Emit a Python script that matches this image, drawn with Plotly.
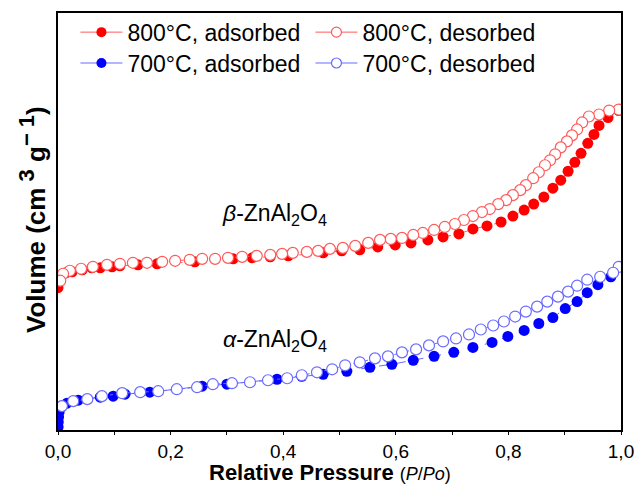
import plotly.graph_objects as go

# Relative pressure P/Po and volume (arbitrary units, no y tick labels in reference)
p_800_ads = [0.000, 0.002, 0.005, 0.014, 0.025, 0.043, 0.060, 0.075, 0.096, 0.110, 0.142, 0.176,
             0.243, 0.311, 0.345, 0.377, 0.409, 0.471, 0.504, 0.536, 0.568, 0.599, 0.627, 0.657,
             0.684, 0.712, 0.737, 0.762, 0.787, 0.808, 0.828, 0.845, 0.863, 0.879, 0.893, 0.906,
             0.918, 0.929, 0.941, 0.952, 0.961, 0.977, 0.996]
v_800_ads = [143, 149, 154, 158, 159, 161, 163, 163, 164, 165, 166, 167,
             169, 172, 173, 174, 175, 178, 180, 181, 184, 186, 188, 191,
             194, 197, 202, 205, 209, 215, 221, 227, 234, 243, 251, 260,
             269, 278, 288, 297, 306, 314, 321]

p_800_des = [0.996, 0.979, 0.961, 0.943, 0.931, 0.922, 0.913, 0.904, 0.893, 0.883, 0.874, 0.865,
             0.854, 0.844, 0.831, 0.821, 0.808, 0.796, 0.782, 0.767, 0.753, 0.737, 0.721, 0.705,
             0.687, 0.668, 0.648, 0.631, 0.611, 0.591, 0.572, 0.551, 0.528, 0.506, 0.483, 0.462,
             0.442, 0.417, 0.398, 0.377, 0.353, 0.327, 0.302, 0.279, 0.256, 0.234, 0.208, 0.185,
             0.158, 0.133, 0.110, 0.087, 0.062, 0.041, 0.021, 0.009, 0.004]
v_800_des = [322, 321, 317, 315, 309, 302, 296, 290, 284, 277, 271, 266,
             259, 253, 246, 241, 236, 231, 227, 222, 219, 215, 211, 207,
             204, 201, 198, 196, 193, 192, 191, 188, 185, 183, 182, 180,
             179, 178, 177, 176, 175, 174, 173, 172, 172, 171, 170, 169,
             168, 168, 167, 166, 164, 162, 160, 157, 150]

p_700_ads = [0.0002, 0.0005, 0.001, 0.002, 0.005, 0.016, 0.036, 0.075, 0.098, 0.119, 0.163, 0.256,
             0.300, 0.389, 0.433, 0.471, 0.513, 0.554, 0.593, 0.631, 0.668, 0.703, 0.737, 0.771,
             0.799, 0.828, 0.854, 0.879, 0.901, 0.922, 0.940, 0.959, 0.982, 0.996]
v_700_ads = [3, 8, 13, 18, 23, 27, 30, 33, 34, 36, 38, 44,
             46, 51, 54, 56, 59, 63, 66, 70, 74, 78, 83, 88,
             94, 100, 107, 113, 122, 129, 138, 146, 154, 164]

p_700_des = [0.996, 0.986, 0.963, 0.940, 0.922, 0.906, 0.888, 0.869, 0.851, 0.831, 0.812, 0.792,
             0.773, 0.751, 0.730, 0.707, 0.684, 0.659, 0.636, 0.611, 0.586, 0.563, 0.536, 0.510,
             0.487, 0.460, 0.433, 0.407, 0.373, 0.341, 0.309, 0.275, 0.247, 0.211, 0.178, 0.146,
             0.114, 0.078, 0.052, 0.027, 0.007]
v_700_des = [164, 158, 154, 151, 145, 139, 134, 129, 124, 119, 114, 109,
             105, 101, 96, 92, 89, 85, 81, 78, 74, 72, 68, 65,
             61, 58, 55, 52, 50, 48, 47, 46, 43, 41, 39, 38,
             37, 34, 31, 29, 24]

x_ticks = [0.0, 0.2, 0.4, 0.6, 0.8, 1.0]
legend_names = ["800\u00b0C, adsorbed", "800\u00b0C, desorbed",
                "700\u00b0C, adsorbed", "700\u00b0C, desorbed"]
labels = ["<i>\u03b2</i>-ZnAl<sub>2</sub>O<sub>4</sub>", "<i>\u03b1</i>-ZnAl<sub>2</sub>O<sub>4</sub>"]
x_title = ("<b>Relative Pressure</b> "
           "<span style='font-size:18px'>(<i>P</i>/<i>Po</i>)</span>")
y_title = ("<b>Volume (cm<sup><span style='font-size:22px'> 3</span></sup>"
           " g<sup><span style='font-size:22px'>\u2212 1</span></sup>)</b>")

RED = "#ff0000"
RED_L = "#ff5a5a"
BLUE = "#0000ff"
BLUE_L = "#6a6aff"
FONT = "Arial, Liberation Sans, sans-serif"

fig = go.Figure()

def add_series(x, y, filled, col, lcol, dash):
    fig.add_trace(go.Scatter(
        x=x, y=y, mode="lines+markers", showlegend=False,
        line=dict(color=lcol, width=1, dash=dash),
        marker=dict(symbol="circle", size=11,
                    color=col if filled else "white",
                    line=dict(color=col if filled else lcol, width=0 if filled else 1.2)),
    ))

add_series(p_800_ads, v_800_ads, True, RED, RED_L, "dash")
add_series(p_800_des, v_800_des, False, RED, RED_L, "dot")
add_series(p_700_ads, v_700_ads, True, BLUE, BLUE_L, "dash")
add_series(p_700_des, v_700_des, False, BLUE, BLUE_L, "dot")

# legend entries (solid line swatches)
specs = [(legend_names[0], True, RED, RED_L, "legend"),
         (legend_names[1], False, RED, RED_L, "legend"),
         (legend_names[2], True, BLUE, BLUE_L, "legend2"),
         (legend_names[3], False, BLUE, BLUE_L, "legend2")]
for name, filled, col, lcol, lg in specs:
    fig.add_trace(go.Scatter(
        x=[None], y=[None], mode="lines+markers", name=name, legend=lg,
        line=dict(color=lcol, width=1),
        marker=dict(symbol="circle", size=10,
                    color=col if filled else "white",
                    line=dict(color=col if filled else lcol, width=0 if filled else 1.2)),
    ))

fig.add_annotation(x=0.385, y=217, text=labels[0],
                   showarrow=False, font=dict(family=FONT, size=23, color="black"))
fig.add_annotation(x=0.385, y=90, text=labels[1],
                   showarrow=False, font=dict(family=FONT, size=23, color="black"))

# axis titles as paper annotations
fig.add_annotation(xref="paper", yref="paper", x=0.484, y=0, yshift=-57,
                   text=x_title, showarrow=False,
                   font=dict(family=FONT, size=22, color="black"))
fig.add_annotation(xref="paper", yref="paper", x=0, xanchor="center", xshift=-25,
                   y=0.5036, yanchor="middle",
                   text=y_title, showarrow=False, textangle=-90,
                   font=dict(family=FONT, size=26, color="black"))

leg_common = dict(orientation="h", entrywidth=178, entrywidthmode="pixels",
                  font=dict(family=FONT, size=23, color="black"),
                  bgcolor="rgba(0,0,0,0)", itemwidth=42,
                  xanchor="left", yanchor="middle", x=0.031)

fig.update_layout(
    width=638, height=491,
    margin=dict(l=58, r=17, t=11, b=61),
    paper_bgcolor="white", plot_bgcolor="white",
    separators=",.",
    legend=dict(**leg_common, y=0.954),
    legend2=dict(**leg_common, y=0.88),
    xaxis=dict(range=[0, 1], tickvals=x_ticks, tickformat=".1f", automargin=False,
               ticks="outside", ticklen=3, tickcolor="black",
               minor=dict(dtick=0.1, ticks="outside", ticklen=3, tickcolor="black"),
               showgrid=False, zeroline=False,
               showline=True, linecolor="black", linewidth=1.5, mirror=True,
               tickfont=dict(family=FONT, size=19, color="black")),
    yaxis=dict(range=[0, 419], showticklabels=False, ticks="", automargin=False,
               showgrid=False, zeroline=False,
               showline=True, linecolor="black", linewidth=1.5, mirror=True),
)

fig.write_html("out.html", config={"displayModeBar": False},
               post_script="document.body.style.margin='0';document.body.style.padding='0';")
